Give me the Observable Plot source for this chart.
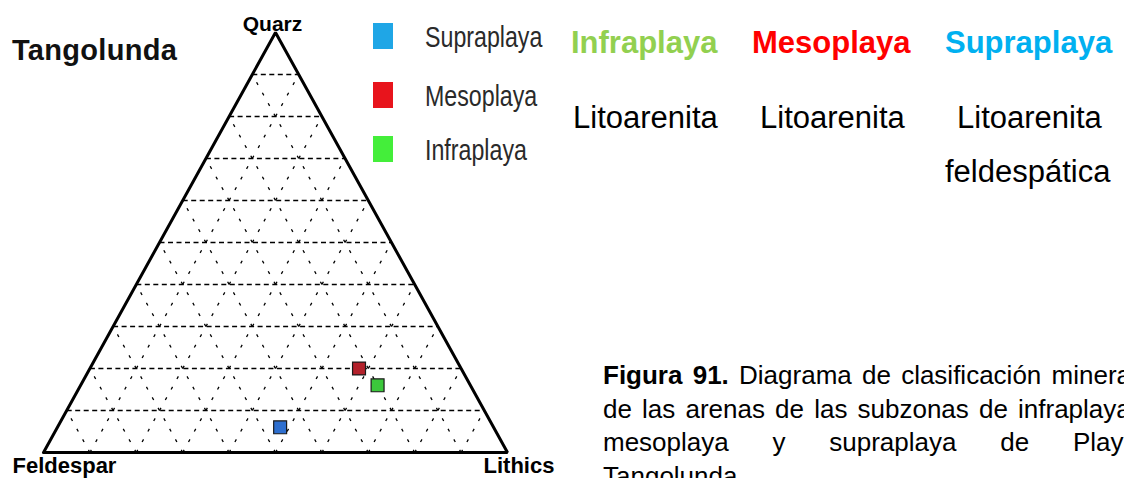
<!DOCTYPE html>
<html><head><meta charset="utf-8">
<script src="https://cdn.jsdelivr.net/npm/d3@7"></script>
<script src="https://cdn.jsdelivr.net/npm/@observablehq/plot@0.6"></script>
<style>
html,body{margin:0;padding:0;background:#fff;}
#page{position:relative;width:1124px;height:478px;overflow:hidden;font-family:"Liberation Sans",Arial,sans-serif;background:#fff;}
#chart{position:absolute;left:0;top:0;}
.abs{position:absolute;white-space:nowrap;line-height:1;}
.cap{position:absolute;left:603px;width:535px;font-size:26px;line-height:33.5px;color:#000;}
.cap div{text-align:justify;text-align-last:justify;white-space:normal;}
.cap div.first{white-space:nowrap;text-align:left;text-align-last:left;word-spacing:3px;}
.cap div.last{text-align-last:left;}
</style></head><body><div id="page"><div id="chart"></div></div>
<script>
// ---- data ----
const sampleNames = ["Supraplaya", "Mesoplaya", "Infraplaya"];
const quartzPct   = [6, 20, 16];
const feldsparPct = [46, 22, 20];
const lithicsPct  = [48, 58, 64];
const markerColors = ["#2e6fcf", "#b3212b", "#3cc83c"];
const legendColors = ["#1fa6e6", "#e8141c", "#44ee3a"];
const vertexLabels = ["Quarz", "Feldespar", "Lithics"];
const gridLevels = [10, 20, 30, 40, 50, 60, 70, 80, 90];
const resultZones  = ["Infraplaya", "Mesoplaya", "Supraplaya"];
const resultColors = ["#92d050", "#ff0000", "#00b0f0"];
const resultRock   = [["Litoarenita"], ["Litoarenita"], ["Litoarenita", "feldespática"]];
const chartTitle = "Tangolunda";
const captionLines = [
  ["Figura 91.", " Diagrama de clasificación mineralógica"],
  ["", "de las arenas de las subzonas de infraplaya,"],
  ["", "mesoplaya y supraplaya de Playa"],
  ["", "Tangolunda."]
];

// ---- ternary helpers ----
const tx = (q, f, l) => (l + q / 2) / 100;
const ty = q => q / 100;

const samples = sampleNames.map((name, i) => ({
  name, q: quartzPct[i], f: feldsparPct[i], l: lithicsPct[i], color: markerColors[i]
}));
const horiz = gridLevels.map(g => ({x1: tx(g, 100 - g, 0), y1: ty(g), x2: tx(g, 0, 100 - g), y2: ty(g)}));
const parL  = gridLevels.map(g => ({x1: tx(0, 100 - g, g), y1: 0, x2: tx(100 - g, 0, g), y2: ty(100 - g)}));
const parF  = gridLevels.map(g => ({x1: tx(0, g, 100 - g), y1: 0, x2: tx(100 - g, g, 0), y2: ty(100 - g)}));
const corners = [
  {label: vertexLabels[0], x: tx(100, 0, 0), y: ty(100)},
  {label: vertexLabels[1], x: tx(0, 100, 0), y: ty(0)},
  {label: vertexLabels[2], x: tx(0, 0, 100), y: ty(0)}
];
const outline = [corners[1], corners[0], corners[2], corners[1]];

const W = 560, H = 478;
const plot = Plot.plot({
  width: W, height: H,
  marginLeft: 43, marginRight: W - 507, marginTop: 32, marginBottom: H - 452,
  x: {domain: [0, 1], axis: null},
  y: {domain: [0, 1], axis: null},
  color: {type: "identity"},
  style: {background: "transparent", overflow: "visible", fontFamily: "Liberation Sans, Arial, sans-serif"},
  marks: [
    Plot.link(horiz, {x1: "x1", y1: "y1", x2: "x2", y2: "y2", stroke: "#000", strokeWidth: 1.4, strokeDasharray: "5,3.5"}),
    Plot.link(parL, {x1: "x1", y1: "y1", x2: "x2", y2: "y2", stroke: "#000", strokeWidth: 1.3, strokeDasharray: "3,9"}),
    Plot.link(parF, {x1: "x1", y1: "y1", x2: "x2", y2: "y2", stroke: "#000", strokeWidth: 1.3, strokeDasharray: "3,9"}),
    Plot.line(outline, {x: "x", y: "y", stroke: "#000", strokeWidth: 3, strokeLinejoin: "miter"}),
    Plot.dot(samples, {x: d => tx(d.q, d.f, d.l), y: d => ty(d.q), symbol: "square", r: 7.3, fill: "color", stroke: "#1a1a1a", strokeWidth: 1.2}),
    Plot.text([corners[0]], {x: "x", y: "y", text: "label", lineAnchor: "bottom", textAnchor: "middle", dx: -3, dy: -2, fontWeight: "bold", fontSize: 21, fill: "#000"}),
    Plot.text([corners[1]], {x: "x", y: "y", text: "label", lineAnchor: "bottom", textAnchor: "start", dx: -31, dy: 20, fontWeight: "bold", fontSize: 22, fill: "#000"}),
    Plot.text([corners[2]], {x: "x", y: "y", text: "label", lineAnchor: "bottom", textAnchor: "start", dx: -24, dy: 20, fontWeight: "bold", fontSize: 22, fill: "#000"})
  ]
});
document.getElementById("chart").appendChild(plot);

// ---- overlay texts ----
const page = document.getElementById("page");
function addText(txt, left, baseline, size, opts = {}) {
  const el = document.createElement("div");
  el.className = "abs";
  el.textContent = txt;
  el.style.left = left + "px";
  el.style.top = (baseline - 0.8465 * size) + "px";
  el.style.fontSize = size + "px";
  el.style.fontWeight = opts.bold ? "bold" : "normal";
  el.style.color = opts.color || "#000";
  if (opts.ls) el.style.letterSpacing = opts.ls + "px";
  if (opts.sx) { el.style.transform = `scaleX(${opts.sx})`; el.style.transformOrigin = "0 0"; }
  page.appendChild(el);
  return el;
}
addText(chartTitle, 12, 61, 29, {bold: true, ls: 0.3, color: "#111"});

// legend
const legTops = [23, 82, 136];
sampleNames.forEach((n, i) => {
  const sq = document.createElement("div");
  sq.style.cssText = `position:absolute;left:373px;top:${legTops[i]}px;width:20px;height:26px;background:${legendColors[i]};`;
  page.appendChild(sq);
  addText(n, 425, legTops[i] + 24.5, 29, {sx: 0.8, color: "#2a2a2a"});
});

// classification results
const zoneLeft = [571, 752, 945];
const rockLeft = [[573], [760], [957, 945]];
resultZones.forEach((z, i) => {
  addText(z, zoneLeft[i], 53, 31, {bold: true, color: resultColors[i]});
  resultRock[i].forEach((r, j) => addText(r, rockLeft[i][j], 128 + j * 54, 31));
});

// caption
const cap = document.createElement("div");
cap.className = "cap";
cap.style.top = (386 - 27) + "px";
captionLines.forEach((ln, i) => {
  const d = document.createElement("div");
  if (i === 0) d.className = "first";
  if (i === captionLines.length - 1) d.className = "last";
  if (ln[0]) { const b = document.createElement("b"); b.textContent = ln[0]; d.appendChild(b); }
  d.appendChild(document.createTextNode(ln[1]));
  cap.appendChild(d);
});
page.appendChild(cap);
</script></body></html>
